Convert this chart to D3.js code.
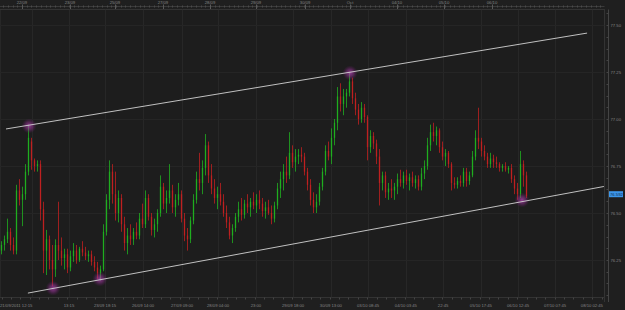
<!DOCTYPE html>
<html>
<head>
<meta charset="utf-8">
<script src="https://cdn.jsdelivr.net/npm/d3@7"></script>
<style>
  html, body { margin: 0; padding: 0; background: #1f1f1f; overflow: hidden; }
  svg { display: block; }
</style>
</head>
<body>
<script>
// bar data (one candle per period)
const opens = [
  76.30, 76.33, 76.36, 76.40, 76.33, 76.30, 76.62, 76.57, 76.60, 76.72,
  76.88, 76.78, 76.75, 76.76, 76.52, 76.30, 76.36, 76.25, 76.20, 76.33,
  76.30, 76.26, 76.28, 76.21, 76.27, 76.30, 76.25, 76.31, 76.29, 76.27,
  76.28, 76.24, 76.21, 76.18, 76.20, 76.40, 76.57, 76.72, 76.60, 76.50,
  76.58, 76.44, 76.34, 76.38, 76.36, 76.40, 76.38, 76.47, 76.44, 76.58,
  76.48, 76.41, 76.44, 76.50, 76.64, 76.55, 76.58, 76.62, 76.53, 76.57,
  76.60, 76.47, 76.38, 76.36, 76.46, 76.57, 76.68, 76.66, 76.74, 76.86,
  76.70, 76.63, 76.58, 76.60, 76.56, 76.50, 76.45, 76.38, 76.42, 76.48,
  76.52, 76.49, 76.55, 76.53, 76.56, 76.54, 76.57, 76.55, 76.51, 76.53,
  76.50, 76.47, 76.54, 76.63, 76.68, 76.72, 76.70, 76.82, 76.77, 76.80,
  76.81, 76.80, 76.72, 76.65, 76.57, 76.53, 76.56, 76.64, 76.72, 76.83,
  76.80, 76.90, 76.98, 77.12, 77.08, 77.12, 77.14, 77.20, 77.11, 77.05,
  77.00, 77.06, 77.01, 76.85, 76.91, 76.87, 76.80, 76.66, 76.70, 76.61,
  76.63, 76.62, 76.64, 76.68, 76.66, 76.70, 76.67, 76.69, 76.66, 76.68,
  76.64, 76.71, 76.75, 76.86, 76.93, 76.91, 76.94, 76.85, 76.80, 76.82,
  76.76, 76.66, 76.65, 76.67, 76.66, 76.72, 76.67, 76.70, 76.80, 76.90,
  76.88, 76.83, 76.80, 76.76, 76.79, 76.77, 76.76, 76.74, 76.75, 76.73,
  76.74, 76.68, 76.63, 76.60, 76.76, 76.70
];
const highs = [
  76.35, 76.38, 76.47, 76.42, 76.37, 76.65, 76.68, 76.64, 76.76, 76.97,
  76.90, 76.79, 76.78, 76.78, 76.56, 76.41, 76.38, 76.33, 76.36, 76.56,
  76.37, 76.31, 76.31, 76.30, 76.34, 76.33, 76.32, 76.35, 76.32, 76.30,
  76.30, 76.27, 76.24, 76.22, 76.44, 76.60, 76.78, 76.76, 76.72, 76.62,
  76.60, 76.48, 76.42, 76.44, 76.42, 76.45, 76.50, 76.55, 76.62, 76.60,
  76.50, 76.47, 76.52, 76.70, 76.66, 76.62, 76.76, 76.65, 76.60, 76.66,
  76.62, 76.50, 76.42, 76.48, 76.60, 76.72, 76.82, 76.78, 76.92, 76.88,
  76.76, 76.68, 76.64, 76.66, 76.60, 76.54, 76.48, 76.44, 76.50, 76.56,
  76.58, 76.57, 76.60, 76.58, 76.61, 76.60, 76.62, 76.58, 76.56, 76.57,
  76.54, 76.56, 76.66, 76.72, 76.76, 76.80, 76.93, 76.86, 76.84, 76.84,
  76.85, 76.82, 76.74, 76.68, 76.61, 76.60, 76.66, 76.74, 76.86, 76.88,
  76.95, 77.00, 77.17, 77.19, 77.16, 77.16, 77.25, 77.22, 77.14, 77.08,
  77.09, 77.08, 77.02, 76.94, 76.93, 76.89, 76.84, 76.72, 76.72, 76.66,
  76.68, 76.66, 76.71, 76.73, 76.72, 76.73, 76.71, 76.72, 76.70, 76.70,
  76.74, 76.78, 76.90, 76.97, 76.98, 76.96, 76.95, 76.88, 76.84, 76.83,
  76.77, 76.69, 76.69, 76.70, 76.74, 76.74, 76.72, 76.83, 76.94, 77.06,
  76.90, 76.86, 76.82, 76.82, 76.81, 76.80, 76.77, 76.76, 76.77, 76.75,
  76.76, 76.70, 76.66, 76.83, 76.78, 76.72
];
const lows = [
  76.28, 76.30, 76.34, 76.30, 76.28, 76.28, 76.54, 76.43, 76.57, 76.70,
  76.73, 76.72, 76.72, 76.46, 76.18, 76.17, 76.20, 76.11, 76.16, 76.25,
  76.22, 76.20, 76.18, 76.19, 76.24, 76.23, 76.24, 76.27, 76.25, 76.24,
  76.22, 76.19, 76.15, 76.14, 76.19, 76.38, 76.52, 76.55, 76.46, 76.45,
  76.40, 76.30, 76.28, 76.33, 76.33, 76.36, 76.36, 76.42, 76.42, 76.46,
  76.38, 76.37, 76.40, 76.48, 76.52, 76.50, 76.55, 76.50, 76.48, 76.54,
  76.45, 76.35, 76.30, 76.34, 76.44, 76.55, 76.62, 76.60, 76.70, 76.66,
  76.60, 76.55, 76.52, 76.54, 76.48, 76.42, 76.36, 76.34, 76.40, 76.45,
  76.46, 76.47, 76.50, 76.48, 76.52, 76.50, 76.52, 76.48, 76.47, 76.49,
  76.44, 76.45, 76.52, 76.58, 76.62, 76.66, 76.68, 76.74, 76.72, 76.76,
  76.77, 76.70, 76.62, 76.54, 76.50, 76.50, 76.54, 76.62, 76.70, 76.78,
  76.76, 76.86, 76.94, 77.04, 77.02, 77.06, 77.12, 77.08, 77.02, 76.97,
  76.98, 76.98, 76.78, 76.82, 76.84, 76.76, 76.54, 76.62, 76.58, 76.57,
  76.58, 76.57, 76.60, 76.64, 76.63, 76.65, 76.62, 76.64, 76.63, 76.62,
  76.62, 76.68, 76.73, 76.83, 76.88, 76.86, 76.82, 76.78, 76.75, 76.74,
  76.62, 76.63, 76.63, 76.64, 76.64, 76.64, 76.65, 76.69, 76.78, 76.84,
  76.80, 76.78, 76.74, 76.74, 76.74, 76.74, 76.72, 76.72, 76.72, 76.71,
  76.66, 76.60, 76.57, 76.58, 76.64, 76.58
];
const closes = [
  76.33, 76.36, 76.40, 76.33, 76.30, 76.62, 76.57, 76.60, 76.72, 76.90,
  76.78, 76.75, 76.76, 76.52, 76.30, 76.36, 76.25, 76.20, 76.33, 76.30,
  76.26, 76.28, 76.21, 76.27, 76.30, 76.25, 76.31, 76.29, 76.27, 76.28,
  76.24, 76.21, 76.18, 76.20, 76.40, 76.57, 76.72, 76.60, 76.50, 76.58,
  76.44, 76.34, 76.38, 76.36, 76.40, 76.38, 76.47, 76.44, 76.58, 76.48,
  76.41, 76.44, 76.50, 76.64, 76.55, 76.58, 76.62, 76.53, 76.57, 76.60,
  76.47, 76.38, 76.36, 76.46, 76.57, 76.68, 76.66, 76.74, 76.86, 76.70,
  76.63, 76.58, 76.60, 76.56, 76.50, 76.45, 76.38, 76.42, 76.48, 76.52,
  76.49, 76.55, 76.53, 76.56, 76.54, 76.57, 76.55, 76.51, 76.53, 76.50,
  76.47, 76.54, 76.63, 76.68, 76.72, 76.70, 76.82, 76.77, 76.80, 76.81,
  76.80, 76.72, 76.65, 76.57, 76.53, 76.56, 76.64, 76.72, 76.83, 76.80,
  76.90, 76.98, 77.12, 77.08, 77.12, 77.14, 77.20, 77.11, 77.05, 77.00,
  77.06, 77.01, 76.85, 76.91, 76.87, 76.80, 76.66, 76.70, 76.61, 76.63,
  76.62, 76.64, 76.68, 76.66, 76.70, 76.67, 76.69, 76.66, 76.68, 76.64,
  76.71, 76.75, 76.86, 76.93, 76.91, 76.94, 76.85, 76.80, 76.82, 76.76,
  76.66, 76.65, 76.67, 76.66, 76.72, 76.67, 76.70, 76.80, 76.90, 76.88,
  76.83, 76.80, 76.76, 76.79, 76.77, 76.76, 76.74, 76.75, 76.73, 76.74,
  76.68, 76.63, 76.60, 76.76, 76.70, 76.59
];

// trend channel (bar index, price) and the touch points marked in purple
const upperIdx = [1.5, 195.2];
const upperPrice = [76.947, 77.457];
const lowerIdx = [8.8, 200.8];
const lowerPrice = [76.074, 76.641];
const touchIdx = [9.2, 17.2, 32.8, 116.2, 173.5];
const touchPrice = [76.963, 76.10, 76.149, 77.245, 76.569];

// axes
const priceTicks = [77.50, 77.25, 77.00, 76.75, 76.50, 76.25];
const lastPrice = 76.592;
const topLabels = ["22/09", "23/09", "25/09", "27/09", "28/09", "29/09", "30/09", "Oct", "04/10", "05/10", "06/10"];
const topIdx = [6.8, 22.8, 37.8, 53.8, 69.5, 84.8, 101.2, 116.2, 131.8, 147.5, 163.5];
const bottomLabels = ["21/09/2011 12:15", "13:15", "23/09 18:15", "26/09 14:00", "27/09 09:00",
  "28/09 04:00", "23:00", "29/09 18:00", "30/09 13:00", "03/10 08:45", "04/10 03:45",
  "22:45", "05/10 17:45", "06/10 12:45", "07/10 07:45", "08/10 02:45"];
const bottomIdx = [10, 22.5, 34.5, 47.2, 60.2, 72.2, 84.8, 97.2, 109.8, 122.2, 134.8,
  147.2, 159.8, 172.2, 184.5, 196.8];

const W = 625, H = 310;
const plotL = 0, plotR = 604.5, plotT = 9.5, plotB = 297.5;
const axisX = 608.5;
const textColor = "#858585";
const font = "Liberation Sans, Arial, sans-serif";

const x = d3.scaleLinear().domain([0, 175]).range([1.5, 526.5]);
const y = d3.scaleLinear().domain([76.00, 77.50]).range([307, 25]);

const svg = d3.select("body").append("svg")
  .attr("width", W)
  .attr("height", H)
  .style("background", "#1f1f1f");

const defs = svg.append("defs");
defs.append("clipPath").attr("id", "plotClip")
  .append("rect")
  .attr("x", plotL).attr("y", plotT)
  .attr("width", plotR - plotL).attr("height", plotB - plotT);

const glow = defs.append("radialGradient").attr("id", "glow");
glow.append("stop").attr("offset", "0%").attr("stop-color", "#b848b8").attr("stop-opacity", 0.75);
glow.append("stop").attr("offset", "50%").attr("stop-color", "#9a329a").attr("stop-opacity", 0.45);
glow.append("stop").attr("offset", "100%").attr("stop-color", "#701870").attr("stop-opacity", 0);

// plot area
svg.append("rect")
  .attr("x", plotL).attr("y", plotT)
  .attr("width", plotR - plotL).attr("height", plotB - plotT)
  .style("fill", "#1d1d1d")
  .attr("stroke", "#333");

// grid
const grid = svg.append("g").attr("clip-path", "url(#plotClip)");
grid.selectAll(".vgrid")
  .data(bottomIdx)
  .enter()
  .append("line")
    .attr("x1", (d) => Math.round(x(d)) + 0.5)
    .attr("x2", (d) => Math.round(x(d)) + 0.5)
    .attr("y1", plotT).attr("y2", plotB)
    .attr("stroke", "#272727");
grid.selectAll(".hgrid")
  .data(priceTicks)
  .enter()
  .append("line")
    .attr("x1", plotL).attr("x2", plotR)
    .attr("y1", (d) => Math.round(y(d)) + 0.5)
    .attr("y2", (d) => Math.round(y(d)) + 0.5)
    .attr("stroke", "#252525");

// candles
const bars = d3.range(closes.length);
const up = "#1fae1f", down = "#bf2020";
const candles = svg.append("g").attr("clip-path", "url(#plotClip)");
candles.selectAll(".wick")
  .data(bars)
  .enter()
  .append("line")
    .attr("x1", (i) => x(i)).attr("x2", (i) => x(i))
    .attr("y1", (i) => y(highs[i]))
    .attr("y2", (i) => y(lows[i]))
    .attr("stroke", (i) => closes[i] >= opens[i] ? up : down)
    .attr("stroke-width", 0.8);
candles.selectAll(".body")
  .data(bars)
  .enter()
  .append("rect")
    .attr("x", (i) => x(i) - 0.65)
    .attr("width", 1.3)
    .attr("y", (i) => y(Math.max(opens[i], closes[i])))
    .attr("height", (i) => Math.max(0.8, Math.abs(y(opens[i]) - y(closes[i]))))
    .attr("fill", (i) => closes[i] >= opens[i] ? up : down);

// touch glows
const over = svg.append("g").attr("clip-path", "url(#plotClip)");
over.selectAll(".glow")
  .data(d3.range(touchIdx.length))
  .enter()
  .append("circle")
    .attr("cx", (k) => x(touchIdx[k]))
    .attr("cy", (k) => y(touchPrice[k]))
    .attr("r", 7.5)
    .attr("fill", "url(#glow)");

// channel lines
const line = d3.line()
  .x((d) => x(d[0]))
  .y((d) => y(d[1]));
over.append("path")
  .datum(d3.zip(upperIdx, upperPrice))
  .attr("d", line)
  .attr("fill", "none")
  .attr("stroke", "#d4d4d4")
  .attr("stroke-width", 0.9);
over.append("path")
  .datum(d3.zip(lowerIdx, lowerPrice))
  .attr("d", line)
  .attr("fill", "none")
  .attr("stroke", "#d4d4d4")
  .attr("stroke-width", 0.9);

// right price axis
const minorPrices = d3.range(76.0, 77.58, 0.0625);
svg.append("line")
  .attr("x1", axisX).attr("x2", axisX)
  .attr("y1", plotT).attr("y2", 302)
  .attr("stroke", "#444");
svg.append("line")
  .attr("x1", plotR).attr("x2", plotR)
  .attr("y1", plotB).attr("y2", 302)
  .attr("stroke", "#333");
svg.selectAll(".ptick")
  .data(minorPrices.filter((p) => y(p) > plotT && y(p) < plotB))
  .enter()
  .append("line")
    .attr("x1", axisX - 2).attr("x2", axisX)
    .attr("y1", (d) => Math.round(y(d)) + 0.5)
    .attr("y2", (d) => Math.round(y(d)) + 0.5)
    .attr("stroke", "#444");
svg.selectAll(".plabel")
  .data(priceTicks)
  .enter()
  .append("text")
    .attr("x", axisX + 2)
    .attr("y", (d) => y(d) + 1.6)
    .style("font-family", font)
    .style("font-size", "4.2px")
    .style("fill", textColor)
    .text((d) => d3.format(".2f")(d));

// last price marker
svg.append("rect")
  .attr("x", axisX + 0.5)
  .attr("y", y(lastPrice) - 4.5)
  .attr("width", 14)
  .attr("height", 6)
  .style("fill", "#3c96ea");
svg.append("text")
  .attr("x", axisX + 1.5)
  .attr("y", y(lastPrice) - 0.2)
  .style("font-family", font)
  .style("font-size", "4.2px")
  .style("fill", "#0d2a4a")
  .text(d3.format(".3f")(lastPrice));

// top date axis
const topMinor = d3.range(-1, 200, 1.567);
svg.append("line")
  .attr("x1", 0).attr("x2", plotR)
  .attr("y1", 6.5).attr("y2", 6.5)
  .attr("stroke", "#3a3a3a");
svg.selectAll(".tminor")
  .data(topMinor.filter((d) => x(d) > 0 && x(d) < plotR))
  .enter()
  .append("line")
    .attr("x1", (d) => Math.round(x(d)) + 0.5)
    .attr("x2", (d) => Math.round(x(d)) + 0.5)
    .attr("y1", 5.5).attr("y2", 7.5)
    .attr("stroke", "#4a4a4a");
svg.selectAll(".tmajor")
  .data(topIdx)
  .enter()
  .append("line")
    .attr("x1", (d) => Math.round(x(d)) + 0.5)
    .attr("x2", (d) => Math.round(x(d)) + 0.5)
    .attr("y1", 4.5).attr("y2", 9)
    .attr("stroke", "#5a5a5a");
svg.selectAll(".tlabel")
  .data(topLabels)
  .enter()
  .append("text")
    .attr("x", (d, k) => x(topIdx[k]))
    .attr("y", 4.2)
    .style("text-anchor", "middle")
    .style("font-family", font)
    .style("font-size", "4.2px")
    .style("fill", textColor)
    .text((d) => d);

// bottom time axis
const bottomMinor = d3.range(0, 204, 3.125);
svg.selectAll(".bminor")
  .data(bottomMinor.filter((d) => x(d) > 0 && x(d) < plotR))
  .enter()
  .append("line")
    .attr("x1", (d) => Math.round(x(d)) + 0.5)
    .attr("x2", (d) => Math.round(x(d)) + 0.5)
    .attr("y1", plotB).attr("y2", plotB + 2)
    .attr("stroke", "#444");
svg.selectAll(".blabel")
  .data(bottomLabels)
  .enter()
  .append("text")
    .attr("x", (d, k) => k === 0 ? 0 : x(bottomIdx[k]))
    .attr("y", 307.2)
    .style("text-anchor", (d, k) => k === 0 ? "start" : "middle")
    .style("font-family", font)
    .style("font-size", "4.2px")
    .style("fill", textColor)
    .text((d) => d);
</script>
</body>
</html>
